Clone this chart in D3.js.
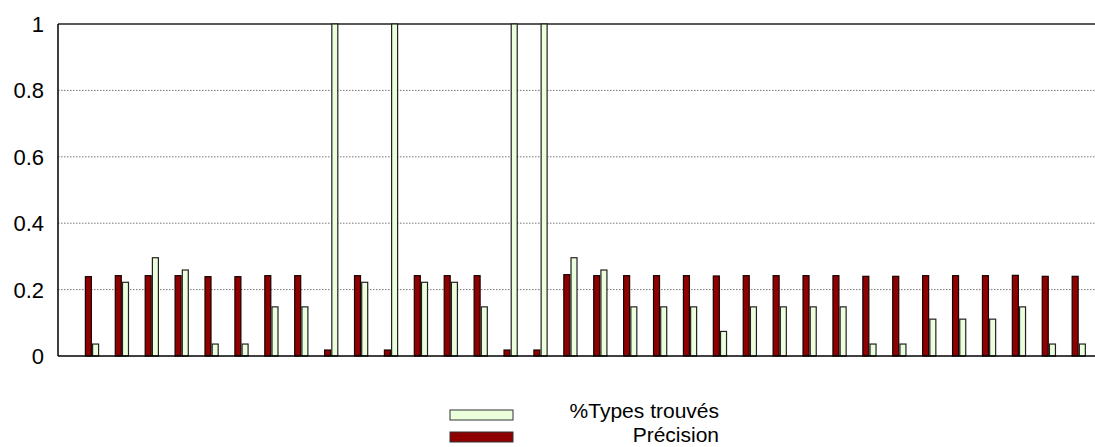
<!DOCTYPE html>
<html><head><meta charset="utf-8">
<script src="https://cdn.jsdelivr.net/npm/d3@7"></script>
<style>body{margin:0;background:#fff}svg{display:block}</style>
</head><body>
<script>
const categories = d3.range(1, 35);
const typesTrouves = [0.036,0.222,0.296,0.259,0.036,0.036,0.148,0.148,1,0.222,1,0.222,0.222,0.148,1,1,
  0.296,0.259,0.148,0.148,0.148,0.074,0.148,0.148,0.148,0.148,0.036,0.036,0.111,0.111,0.111,0.148,0.036,0.036];
const precision = [0.239,0.242,0.242,0.242,0.239,0.239,0.242,0.242,0.018,0.242,0.018,0.242,0.242,0.242,0.018,0.018,
  0.245,0.242,0.242,0.242,0.242,0.241,0.242,0.242,0.242,0.242,0.240,0.240,0.242,0.242,0.242,0.243,0.240,0.240];
const yTicks = [0, 0.2, 0.4, 0.6, 0.8, 1];
const yTickLabels = ["0","0.2","0.4","0.6","0.8","1"];
const seriesNames = ["%Types trouvés", "Précision"];
const colors = {types:"#ecffdc", prec:"#8f0000"};

(function draw() {
const W = 1095, H = 447;
const svg = d3.select("body").append("svg").attr("width", W).attr("height", H)
  .style("font-family", "Arial, 'Liberation Sans', sans-serif");

const pL = 58, pT = 24, pB = 356, pR = 1095;
const y = d3.scaleLinear().domain([0, 1]).range([pB, pT]);
const x = d3.scaleLinear().domain([-1.14, 33.54]).range([pL, pR]);

// grid
svg.append("g").selectAll("line").data(yTicks.filter(t => t > 0 && t < 1)).join("line")
  .attr("x1", pL).attr("x2", pR).attr("y1", d => y(d)).attr("y2", d => y(d))
  .attr("stroke", "#777").attr("stroke-width", 1).attr("stroke-dasharray", "1.5,1.5");
svg.append("line").attr("x1", pL).attr("x2", pR).attr("y1", y(1)).attr("y2", y(1))
  .attr("stroke", "#222").attr("stroke-width", 1.6);

// y axis labels
svg.append("g").selectAll("text").data(yTicks).join("text")
  .attr("x", 44).attr("y", d => y(d) + 8).attr("text-anchor", "end")
  .attr("font-size", 22).attr("fill", "#000").text((d, i) => yTickLabels[i]);

// bars
const g = svg.append("g");
g.selectAll("rect.prec").data(precision).join("rect").attr("class", "prec")
  .attr("x", (d, i) => x(i) - 6.7).attr("width", 6)
  .attr("y", d => y(d)).attr("height", d => y(0) - y(d))
  .attr("fill", colors.prec).attr("stroke", "#1a0000").attr("stroke-width", 1.2);
g.selectAll("rect.types").data(typesTrouves).join("rect").attr("class", "types")
  .attr("x", (d, i) => x(i) + 0.5).attr("width", 6)
  .attr("y", d => y(d)).attr("height", d => y(0) - y(d))
  .attr("fill", colors.types).attr("stroke", "#222").attr("stroke-width", 1.2);

// axes lines
svg.append("line").attr("x1", pL).attr("x2", pL).attr("y1", pT).attr("y2", pB)
  .attr("stroke", "#000").attr("stroke-width", 1.5);
svg.append("line").attr("x1", pL).attr("x2", pR).attr("y1", pB).attr("y2", pB)
  .attr("stroke", "#000").attr("stroke-width", 1.5);

// legend
const legend = [{name: seriesNames[0], fill: colors.types, yy: 410, ty: 418},
                {name: seriesNames[1], fill: colors.prec, yy: 432, ty: 442}];
const lg = svg.append("g");
lg.selectAll("rect").data(legend).join("rect")
  .attr("x", 450).attr("y", d => d.yy).attr("width", 63).attr("height", 10)
  .attr("fill", d => d.fill).attr("stroke", "#333").attr("stroke-width", 1);
lg.selectAll("text").data(legend).join("text")
  .attr("x", 719).attr("y", d => d.ty).attr("text-anchor", "end")
  .attr("font-size", 21).attr("fill", "#000").text(d => d.name);
})();
</script>
</body></html>
